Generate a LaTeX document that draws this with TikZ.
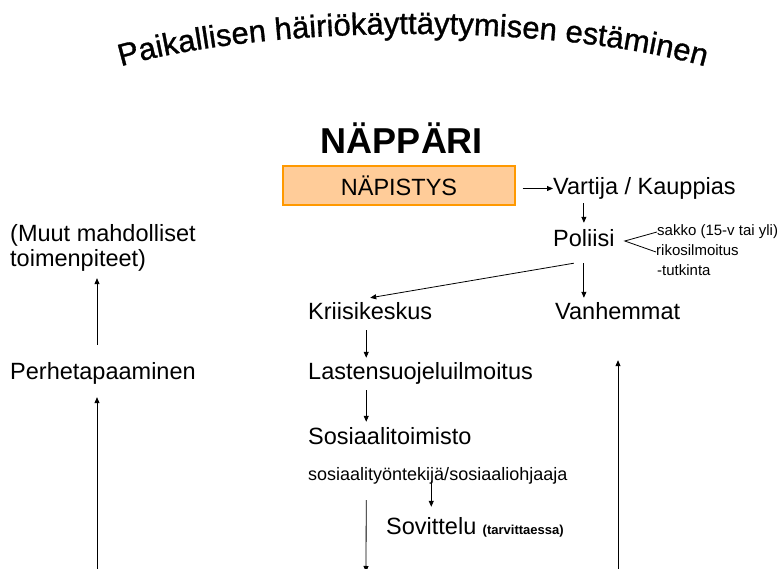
\documentclass[tikz,border=0pt]{standalone}
\usepackage{fontspec}
\setmainfont{Liberation Sans}
\newfontfamily\arcfont[FakeBold=1]{Liberation Sans}
\usetikzlibrary{positioning,arrows.meta,decorations.text}

\definecolor{napfill}{HTML}{FFCC99}
\definecolor{napline}{HTML}{FF9900}

\def\px{1pt}

\begin{document}
\begin{tikzpicture}[x=\px, y=\px,
    every node/.style={inner sep=0pt},
    lbl/.style={anchor=base west, font=\fontsize{23.5}{25}\selectfont, text height=17pt, text depth=5pt},
    mid/.style={anchor=base west, font=\fontsize{18}{20}\selectfont, text height=13pt, text depth=4pt},
    note/.style={anchor=base west, font=\fontsize{15}{17}\selectfont, text height=11pt, text depth=3pt},
    tiny/.style={font=\bfseries\fontsize{13}{15}\selectfont},
    napbox/.style={draw=napline, fill=napfill, line width=1.2pt, minimum width=232pt, minimum height=39pt, font=\fontsize{23.5}{25}\selectfont},
    arr/.style={-{Triangle[length=6pt,width=5pt]}, line width=0.8pt}]
      \useasboundingbox (0,0) rectangle (784,569);
      % otsikko kaarella
      \path[decorate, decoration={text along path, text align=center,
          text={|\arcfont\fontsize{31}{31}\selectfont|Paikallisen häiriökäyttäytymisen estäminen}}]
          (413,445) ++(152:380 and 90) arc[start angle=152, end angle=28, x radius=380, y radius=90];
      \node[font=\bfseries\fontsize{36}{36}\selectfont, anchor=base] (title) at (402,415) {NÄPPÄRI};
      % oikea haara
      \node[napbox] (nap) at (399,383.5) {NÄPISTYS};
      \node[lbl] (vartija) at (553,374) {Vartija / Kauppias};
      \node[lbl] (poliisi) at (553,322) {Poliisi};
      \node[note] (sakko) at (657,333) {sakko (15-v tai yli)};
      \node[note] (rikos) at (656,313) {rikosilmoitus};
      \node[note] (tutk) at (657,293) {-tutkinta};
      \node[lbl] (kriisi) at (308,249) {Kriisikeskus};
      \node[lbl] (vanh) at (555,249) {Vanhemmat};
      \node[lbl] (lasten) at (308,189) {Lastensuojeluilmoitus};
      \node[lbl] (sostoim) at (308,124) {Sosiaalitoimisto};
      \node[mid] (tyont) at (308,88) {sosiaalityöntekijä/sosiaaliohjaaja};
      \node[lbl] (sov) at (386,34) {Sovittelu};
      \node[tiny, right=6pt of sov.base east, anchor=base west] (tarv) {(tarvittaessa)};
      % vasen sarake
      \node[lbl, align=left] (muut) at (10,302) {(Muut mahdolliset\\toimenpiteet)};
      \node[lbl] (perhe) at (10,189) {Perhetapaaminen};
      % vapaat päät
      \coordinate (kx) at ([xshift=-4pt]kriisi.south);
      \coordinate (endA) at (366,-3);
      \coordinate (endB) at (618,-6);
      \coordinate (endC) at (97,-6);
      % nuolet
      \draw[arr, shorten <=7pt] ([yshift=-3pt]nap.east) -- ([yshift=-3pt]nap.east -| vartija.west);
      \draw[arr] ([yshift=-3pt]poliisi.north |- vartija.south) -- ([yshift=7pt]poliisi.north);
      \draw[line width=0.8pt] (sakko.west) -- ([xshift=10pt]poliisi.east) -- (rikos.west);
      \draw[arr] ([xshift=-10pt,yshift=-11pt]poliisi.south) -- ([yshift=5pt]kriisi.north);
      \draw[arr] ([yshift=-11pt]poliisi.south) -- ([yshift=5pt]poliisi.south |- vanh.north);
      \draw[arr] ([yshift=-5pt]kx) -- ([yshift=5pt]kx |- lasten.north);
      \draw[arr] ([yshift=-5pt]kx |- lasten.south) -- ([yshift=6pt]kx |- sostoim.north);
      \draw[arr] (sov.north |- tyont.base) -- ([yshift=11pt]sov.north);
      \draw[arr] ([yshift=-15pt]kx |- tyont.south) -- (endA);
      \draw[arr] (endB) -- ([yshift=-35pt]endB |- vanh.south);
      \draw[arr] (endC) -- ([yshift=-12pt]endC |- perhe.south);
      \draw[arr] ([yshift=18pt]endC |- perhe.north) -- ([yshift=-6pt]endC |- muut.south);
    \end{tikzpicture}
\end{document}
